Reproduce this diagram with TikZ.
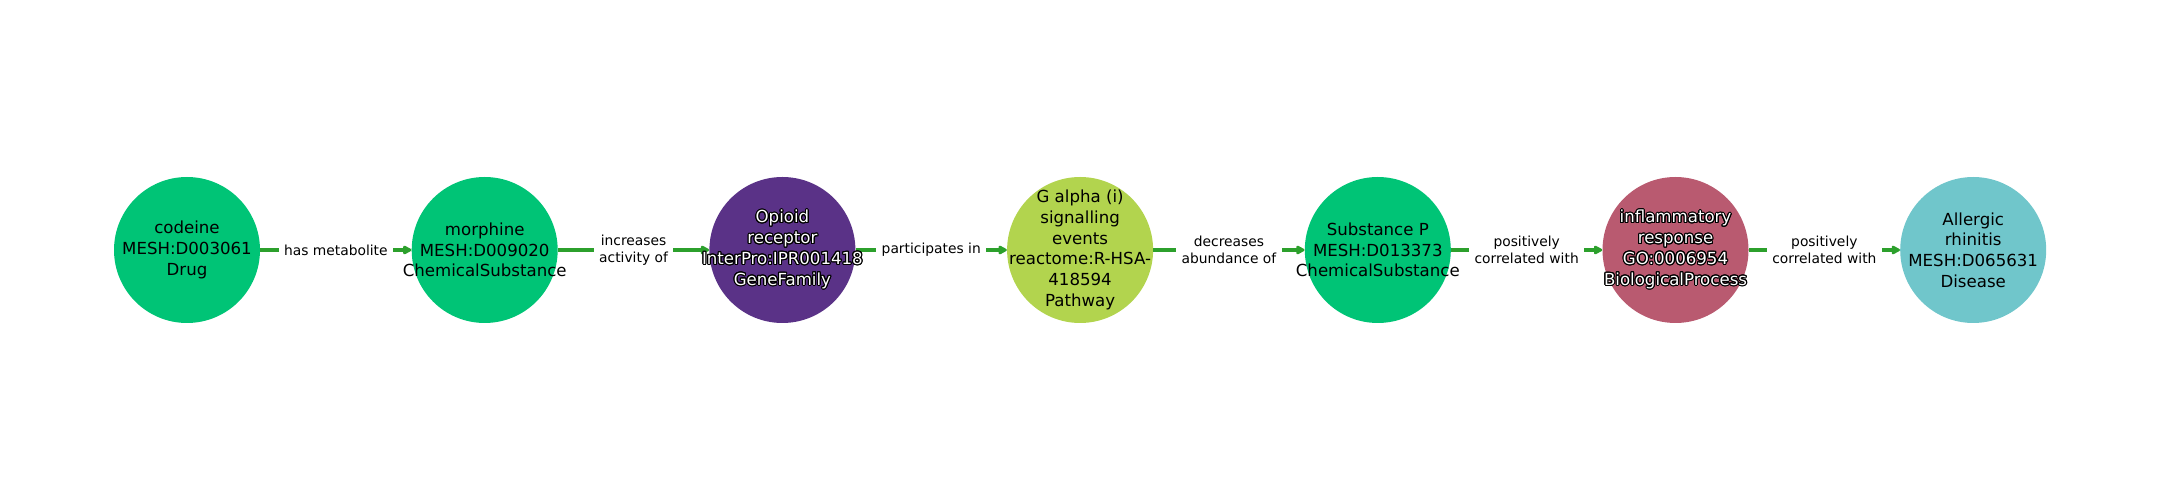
\documentclass[tikz,border=0pt]{standalone}
\usepackage{fontspec}
\setmainfont{DejaVu Sans}
\usepackage{tikz}
\usetikzlibrary{arrows.meta}
\usepackage{contour}
\contourlength{0.8pt}
\definecolor{chemgreen}{RGB}{0,196,118}
\definecolor{genepurple}{RGB}{90,50,135}
\definecolor{pathlime}{RGB}{178,212,78}
\definecolor{procrose}{RGB}{185,90,112}
\definecolor{diseasecyan}{RGB}{112,198,203}
\definecolor{relgreen}{RGB}{44,160,44}
\newcommand{\olin}[1]{\contour{black}{#1}}

\begin{document}
\begin{tikzpicture}[x=1in,y=1in,
  ent/.style={circle,draw=none,minimum size=1.46in,inner sep=0pt},
  enttxt/.style={align=center,inner sep=0pt,font=\fontsize{12}{15}\selectfont},
  rel/.style={-{Triangle[length=7pt,width=7pt,round]},line width=2.8pt,color=relgreen},
  rellab/.style={fill=white,text=black,align=center,inner xsep=4pt,inner ysep=2pt,font=\fontsize{10}{12.5}\selectfont}]
\useasboundingbox (0,0) rectangle (21.6,5);
% entities
\node[ent,fill=chemgreen] (codeine) at (1.87,2.5) {};
\node[ent,fill=chemgreen] (morphine) at (4.847,2.5) {};
\node[ent,fill=genepurple] (opioid) at (7.824,2.5) {};
\node[ent,fill=pathlime] (galpha) at (10.801,2.5) {};
\node[ent,fill=chemgreen] (substp) at (13.778,2.5) {};
\node[ent,fill=procrose] (inflam) at (16.755,2.5) {};
\node[ent,fill=diseasecyan] (rhinitis) at (19.732,2.5) {};
% relations
\draw[rel] (codeine) -- node[rellab] {has metabolite} (morphine);
\draw[rel] (morphine) -- node[rellab] {increases\\activity of} (opioid);
\draw[rel] (opioid) -- node[rellab] {participates in} (galpha);
\draw[rel] (galpha) -- node[rellab] {decreases\\abundance of} (substp);
\draw[rel] (substp) -- node[rellab] {positively\\correlated with} (inflam);
\draw[rel] (inflam) -- node[rellab] {positively\\correlated with} (rhinitis);
% entity texts
\node[enttxt] (codeinetxt) at (codeine) {codeine\\MESH:D003061\\Drug};
\node[enttxt] (morphinetxt) at (morphine) {morphine\\MESH:D009020\\ChemicalSubstance};
\node[enttxt,text=white] (opioidtxt) at (opioid) {\olin{Opioid}\\\olin{receptor}\\\olin{InterPro:IPR001418}\\\olin{GeneFamily}};
\node[enttxt] (galphatxt) at (galpha) {G alpha (i)\\signalling\\events\\reactome:R-HSA-\\418594\\Pathway};
\node[enttxt] (substptxt) at (substp) {Substance P\\MESH:D013373\\ChemicalSubstance};
\node[enttxt,text=white] (inflamtxt) at (inflam) {\olin{inflammatory}\\\olin{response}\\\olin{GO:0006954}\\\olin{BiologicalProcess}};
\node[enttxt] (rhinitistxt) at (rhinitis) {Allergic\\rhinitis\\MESH:D065631\\Disease};
\end{tikzpicture}
\end{document}
